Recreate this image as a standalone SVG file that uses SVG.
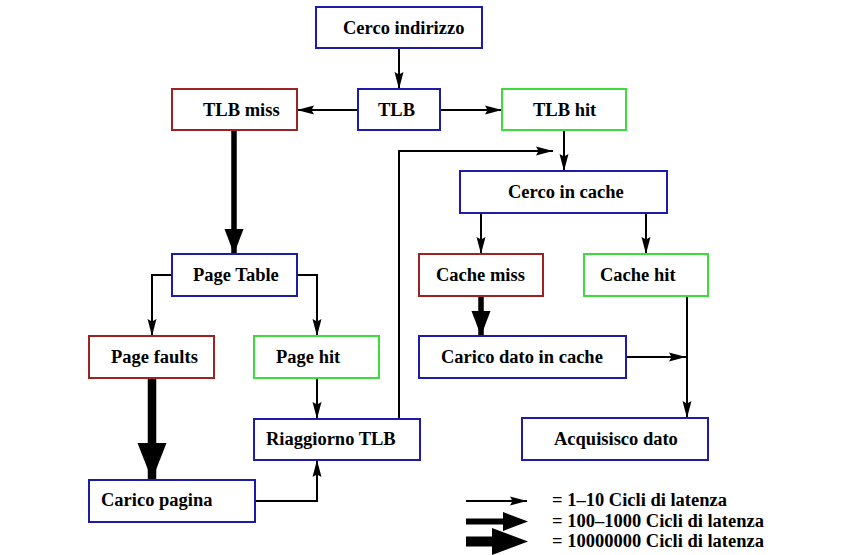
<svg xmlns="http://www.w3.org/2000/svg" width="845" height="555" viewBox="0 0 845 555">
  <style>
    .box rect { fill: #ffffff; stroke-width: 2; }
    .blue rect { stroke: #1c1ca8; }
    .red rect { stroke: #9e2222; }
    .green rect { stroke: #3cdc3c; }
    text { font-family: "Liberation Serif", "Times New Roman", serif; font-weight: bold; font-size: 18.5px; fill: #000000; }
    .thin { fill: none; stroke: #000000; stroke-width: 2; marker-end: url(#head-s); }
    .mid { fill: none; stroke: #000000; stroke-width: 5.5; marker-end: url(#head-m); }
    .heavy { fill: none; stroke: #000000; stroke-width: 8.5; marker-end: url(#head-l); }
  </style>
  <defs>
    <marker id="head-s" markerUnits="userSpaceOnUse" markerWidth="18" markerHeight="10" refX="17" refY="5" orient="auto">
      <path d="M0,0.5 L17,5 L0,9.5 L2.5,5 Z" fill="#000000"/>
    </marker>
    <marker id="head-m" markerUnits="userSpaceOnUse" markerWidth="26" markerHeight="20" refX="25" refY="10" orient="auto">
      <path d="M0,0.5 L25,10 L0,19.5 Z" fill="#000000"/>
    </marker>
    <marker id="head-l" markerUnits="userSpaceOnUse" markerWidth="38" markerHeight="30" refX="37" refY="15" orient="auto">
      <path d="M0,0.5 L37,15 L0,29.5 Z" fill="#000000"/>
    </marker>
  </defs>

  <rect x="0" y="0" width="845" height="555" fill="#ffffff"/>

  <!-- connectors -->
  <g id="connectors">
    <path class="thin" d="M399,48 V89"/>
    <path class="thin" d="M358,110 H297"/>
    <path class="thin" d="M440,110 H502"/>
    <path class="mid" d="M234,130 V254"/>
    <path class="thin" d="M172,275 H152 V336"/>
    <path class="thin" d="M297,275 H317 V336"/>
    <path class="heavy" d="M152,378 V480"/>
    <path class="thin" d="M317,378 V419"/>
    <path class="thin" d="M255,501 H317 V460"/>
    <path class="thin" d="M399,419 V151 H553"/>
    <path class="thin" d="M564,130 V171"/>
    <path class="thin" d="M481,213 V254"/>
    <path class="thin" d="M646,213 V254"/>
    <path class="mid" d="M481,296 V336"/>
    <path class="thin" d="M626,357 H686"/>
    <path class="thin" d="M687,296 V418"/>
  </g>

  <!-- nodes -->
  <g id="cerco-indirizzo" class="box blue">
    <rect x="316" y="7" width="166" height="41"/>
    <text x="343" y="33.5">Cerco indirizzo</text>
  </g>
  <g id="tlb" class="box blue">
    <rect x="358" y="89" width="82" height="41"/>
    <text x="378" y="115.5">TLB</text>
  </g>
  <g id="tlb-miss" class="box red">
    <rect x="172" y="89" width="125" height="41"/>
    <text x="203" y="115.5">TLB miss</text>
  </g>
  <g id="tlb-hit" class="box green">
    <rect x="502" y="89" width="124" height="41"/>
    <text x="533" y="115.5">TLB hit</text>
  </g>
  <g id="page-table" class="box blue">
    <rect x="172" y="254" width="125" height="42"/>
    <text x="193" y="280.5">Page Table</text>
  </g>
  <g id="page-faults" class="box red">
    <rect x="89" y="336" width="125" height="42"/>
    <text x="111" y="362.5">Page faults</text>
  </g>
  <g id="page-hit" class="box green">
    <rect x="254" y="336" width="125" height="42"/>
    <text x="276" y="362.5">Page hit</text>
  </g>
  <g id="riaggiorno-tlb" class="box blue">
    <rect x="254" y="419" width="166" height="41"/>
    <text x="266" y="444.5">Riaggiorno TLB</text>
  </g>
  <g id="carico-pagina" class="box blue">
    <rect x="89" y="480" width="166" height="42"/>
    <text x="101" y="506">Carico pagina</text>
  </g>
  <g id="cerco-in-cache" class="box blue">
    <rect x="460" y="171" width="207" height="42"/>
    <text x="508" y="197.5">Cerco in cache</text>
  </g>
  <g id="cache-miss" class="box red">
    <rect x="419" y="254" width="124" height="42"/>
    <text x="436" y="280.5">Cache miss</text>
  </g>
  <g id="cache-hit" class="box green">
    <rect x="584" y="254" width="124" height="42"/>
    <text x="600" y="280.5">Cache hit</text>
  </g>
  <g id="carico-dato" class="box blue">
    <rect x="419" y="336" width="207" height="42"/>
    <text x="441" y="362.5">Carico dato in cache</text>
  </g>
  <g id="acquisisco-dato" class="box blue">
    <rect x="522" y="418" width="186" height="42"/>
    <text x="554" y="445">Acquisisco dato</text>
  </g>

  <!-- latency legend -->
  <g id="legend">
    <path class="thin" d="M466,501 H527"/>
    <path fill="#000000" d="M466,518.5 H503 V512 L528,521.5 L503,531 V524.5 H466 Z"/>
    <path fill="#000000" d="M466,536.5 H492 V528 L528,541.5 L492,555 V546.5 H466 Z"/>
    <text x="552" y="505.5">= 1–10 Cicli di latenza</text>
    <text x="552" y="526.5">= 100–1000 Cicli di latenza</text>
    <text x="552" y="547">= 10000000 Cicli di latenza</text>
  </g>
</svg>
